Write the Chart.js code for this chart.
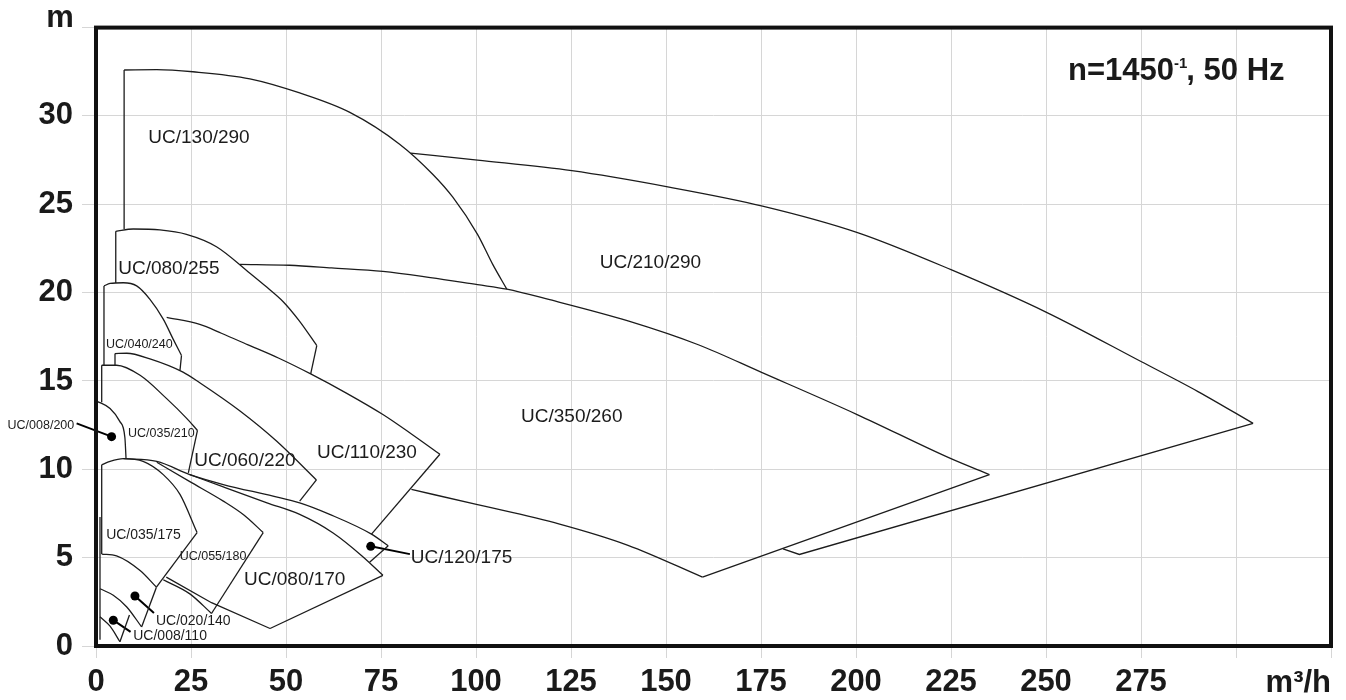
<!DOCTYPE html>
<html>
<head>
<meta charset="utf-8">
<script src="https://cdn.jsdelivr.net/npm/chart.js@4/dist/chart.umd.min.js"></script>
<style>
  body { margin: 0; background: #fff; }
  canvas { display: block; }
</style>
</head>
<body>
<canvas id="chart" width="1346" height="700"></canvas>
<script>
// tick labels
const xTickLabels = [0, 25, 50, 75, 100, 125, 150, 175, 200, 225, 250, 275];
const yTickLabels = [0, 5, 10, 15, 20, 25, 30];

// envelope curves, [Q m3/h, H m]
const top130 = [[7.4,32.6],[16,32.62],[25.5,32.5],[40.5,32.1],[53.6,31.3],[66.8,30.2],[79.9,28.4],[88.6,26.7],[93.9,25.4],[100.4,23.3],[104.4,21.6],[108.1,20.2]];
const left130 = [[7.4,23.6],[7.4,32.6]];

const top210 = [[82.8,27.9],[100.4,27.5],[125.2,26.9],[150.1,26.0],[175.4,24.9],[200.4,23.4],[225,21.3],[250,18.9],[275,16.1],[290,14.4],[304.5,12.6]];
const bottom210 = [[304.5,12.6],[185.1,5.18],[180.8,5.5]];

const top350 = [[37.9,21.6],[50.9,21.55],[62,21.4],[75.5,21.2],[88,20.85],[100.4,20.45],[108.1,20.2],[119.4,19.6],[140,18.4],[158.5,17.05],[175,15.5],[200.3,13.1],[225,10.6],[235.1,9.7]];
const tip350 = [[235.1,9.7],[159.6,3.9]];
const lower350 = [[83,8.86],[100.4,8.0],[122,6.9],[140,5.7],[159.6,3.9]];

const left080b = [[5.2,20.55],[5.2,23.47]];
const top080b = [[5.2,23.47],[9.8,23.6],[16.8,23.55],[23.8,23.3],[31.7,22.6],[40.5,21.1],[45,20.3],[49.2,19.5],[53.5,18.4],[58.1,17.0]];
const edge080b = [[58.1,17.0],[56.5,15.4]];

const left040 = [[2.1,15.9],[2.1,20.38]];
const top040 = [[2.1,20.38],[3.7,20.52],[7.2,20.56],[10.7,20.38],[14.2,19.62],[17.7,18.5],[20.3,17.37],[22.5,16.44]];
const edge040 = [[22.5,16.44],[22.1,15.6]];

const top110 = [[18.6,18.6],[27.3,18.2],[33,17.7],[40.5,17.0],[48,16.3],[56.5,15.4],[66,14.3],[75.5,13.1],[83,12.0],[90.5,10.85]];
const edge110 = [[90.5,10.85],[72.5,6.33]];

const left060 = [[5.0,15.9],[5.0,16.55]];
const top060 = [[5.0,16.55],[8.1,16.57],[14.2,16.25],[22.9,15.5],[27.3,14.9],[37.9,13.3],[47.5,11.6],[58,9.4]];
const edge060 = [[58,9.4],[53.6,8.2]];

const left035b = [[1.5,13.8],[1.5,15.89]];
const top035b = [[1.5,15.89],[5.4,15.89],[11.6,15.32],[18.6,14.0],[23.8,12.9],[26.7,12.2]];
const edge035b = [[26.7,12.2],[24.3,9.8]];

const top008b = [[0.2,13.86],[3.7,13.44],[6.3,12.7],[7.6,11.8],[7.9,10.63]];

const top120 = [[7.2,10.6],[16,10.45],[24.7,9.7],[33.5,9.14],[46.6,8.48],[53.6,8.1],[61.5,7.45],[72.5,6.33],[76.9,5.67]];
const edge120 = [[76.9,5.67],[72.0,4.74]];

const top080a = [[24.7,9.7],[33.5,9.0],[45,8.1],[53.6,7.45],[62.4,6.4],[70,5.1],[75.5,4.0]];
const tip080a = [[75.5,4.0],[45.8,0.99]];
const lower080a = [[45.8,0.99],[30.4,2.45],[18.5,3.9]];

const top055 = [[16,10.4],[24.7,9.3],[33.5,8.2],[39,7.4],[44,6.42]];
const edge055 = [[44,6.42],[30.4,1.84]];
const bottom055 = [[17.7,3.75],[24.7,2.95],[30.4,1.84]];

const left035a = [[1.5,5.2],[1.5,10.26]];
const top035a = [[1.5,10.26],[3.7,10.45],[7.2,10.6],[12.4,10.45],[17.7,9.7],[22.1,8.58],[26.6,6.42]];
const bottom035a = [[1.5,5.2],[5.4,5.1],[11.6,4.27],[15.9,3.33]];
const edge035a = [[26.6,6.42],[15.9,3.33]];

const top020 = [[1.05,3.24],[4.55,2.87],[8.1,2.21],[12.0,1.08]];
const edge020 = [[12.0,1.08],[15.9,3.33]];

const top008a = [[1.05,1.65],[3.7,1.12],[6.3,0.24]];
const edge008a = [[6.3,0.24],[8.8,1.75]];
const leftThin = [[1.05,0.35],[1.05,7.3]];

// pump names and where they sit
const pumpNames = ['UC/130/290','UC/210/290','UC/080/255','UC/040/240','UC/350/260','UC/110/230','UC/060/220','UC/035/210','UC/008/200','UC/035/175','UC/055/180','UC/080/170','UC/120/175','UC/020/140','UC/008/110'];
const nameQ = [27.1, 145.9, 19.2, 11.4, 125.2, 71.3, 39.2, 17.2, -14.5, 12.5, 30.8, 52.3, 96.2, 25.6, 19.5];
const nameH = [28.76, 21.7, 21.35, 17.08, 12.98, 10.96, 10.5, 12.0, 12.5, 6.3, 5.06, 3.76, 5.0, 1.4, 0.56];

// marker dots with leader lines
const markerQ = [4.1, 72.3, 10.25, 4.55];
const markerH = [11.85, 5.64, 2.83, 1.46];
const leaderQ = [-5.1, 82.6, 15.25, 9.1];
const leaderH = [12.6, 5.2, 1.87, 0.8];

const FONT = '"Liberation Sans", Arial, sans-serif';
const INK = '#1c1c1c';
const nameSize = [19, 19, 19, 12.5, 19, 19, 19, 12.5, 12.5, 14, 12.5, 19, 19, 14, 14];

const smoothCurves = [top130, top210, top350, lower350, top080b, top040, top110, top060, top035b, top008b,
  top120, top080a, top055, bottom055, top035a, bottom035a, top020, top008a];
const straightEdges = [left130, bottom210, tip350, left080b, edge080b, left040, edge040, edge110, left060, edge060,
  left035b, edge035b, edge120, tip080a, lower080a, edge055, left035a, edge035a, edge020, edge008a, leftThin];

const toPts = arr => arr.map(([x, y]) => ({ x, y }));
const datasets = [];
smoothCurves.forEach(c => datasets.push({
  data: toPts(c), showLine: true, cubicInterpolationMode: 'monotone',
  borderColor: INK, borderWidth: 1.3, pointRadius: 0
}));
straightEdges.forEach(c => datasets.push({
  data: toPts(c), showLine: true, tension: 0, borderColor: INK, borderWidth: 1.3, pointRadius: 0
}));
markerQ.forEach((q, i) => datasets.push({
  data: [{ x: q, y: markerH[i] }, { x: leaderQ[i], y: leaderH[i] }],
  showLine: true, tension: 0, borderColor: '#000', borderWidth: 2, pointRadius: 0, clip: false
}));
datasets.push({
  data: markerQ.map((q, i) => ({ x: q, y: markerH[i] })),
  pointRadius: 4.5, pointBackgroundColor: '#000', pointBorderWidth: 0
});

const decor = {
  id: 'decor',
  afterDraw(chart) {
    const { ctx, chartArea: a, scales: { x, y } } = chart;
    ctx.save();
    ctx.strokeStyle = '#111';
    ctx.lineWidth = 4;
    ctx.strokeRect(a.left, a.top, a.right - a.left, a.bottom - a.top);

    ctx.fillStyle = INK;
    ctx.textAlign = 'center';
    ctx.textBaseline = 'middle';
    pumpNames.forEach((t, i) => {
      ctx.font = nameSize[i] + 'px ' + FONT;
      ctx.fillText(t, x.getPixelForValue(nameQ[i]), y.getPixelForValue(nameH[i]));
    });

    // axis units
    ctx.fillStyle = '#1a1a1a';
    ctx.font = 'bold 31px ' + FONT;
    ctx.textBaseline = 'alphabetic';
    ctx.textAlign = 'center';
    ctx.fillText('m', 60, 27);
    ctx.textAlign = 'right';
    ctx.fillText('m³/h', 1331, 692);

    // speed note
    ctx.textAlign = 'left';
    let px = 1068;
    const base = 80;
    ctx.font = 'bold 31px ' + FONT;
    ctx.fillText('n=1450', px, base);
    px += ctx.measureText('n=1450').width;
    ctx.font = 'bold 15px ' + FONT;
    ctx.fillText('-1', px, base - 12);
    px += ctx.measureText('-1').width - 1;
    ctx.font = 'bold 31px ' + FONT;
    ctx.fillText(', 50 Hz', px, base);
    ctx.restore();
  }
};

new Chart(document.getElementById('chart'), {
  type: 'scatter',
  data: { datasets },
  options: {
    responsive: false,
    animation: false,
    layout: { padding: { top: 23, right: 15 } },
    plugins: { legend: { display: false }, tooltip: { enabled: false } },
    scales: {
      x: {
        type: 'linear', min: 0, max: 325,
        afterFit: s => { s.height = 54; },
        grid: { color: '#d6d6d6', lineWidth: 1, tickLength: 12 },
        border: { display: false },
        ticks: {
          stepSize: 25, padding: 6, color: '#1a1a1a', maxRotation: 0,
          font: { family: FONT, size: 31, weight: 'bold' },
          callback: v => xTickLabels.includes(v) ? v : ''
        }
      },
      y: {
        type: 'linear', min: 0, max: 35,
        afterFit: s => { s.width = 96; },
        grid: { color: '#d6d6d6', lineWidth: 1, tickLength: 14 },
        border: { display: false },
        ticks: {
          stepSize: 5, padding: 9, color: '#1a1a1a',
          font: { family: FONT, size: 31, weight: 'bold' },
          callback: v => yTickLabels.includes(v) ? v : ''
        }
      }
    }
  },
  plugins: [decor]
});
</script>
</body>
</html>
